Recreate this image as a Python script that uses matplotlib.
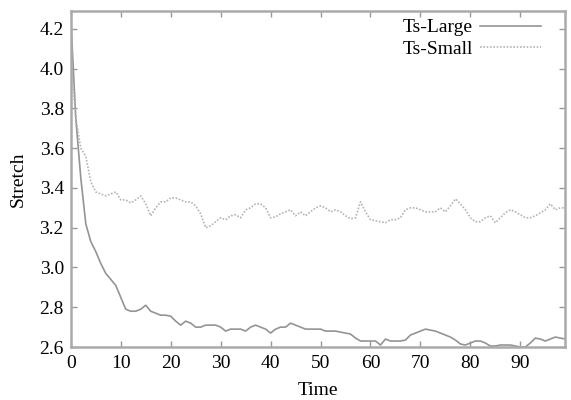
import matplotlib.pyplot as plt
import numpy as np

plt.rcParams['font.family'] = ['Liberation Serif', 'DejaVu Serif']

time = np.arange(100)

ts_large = [4.25, 3.75, 3.45, 3.22, 3.13, 3.08, 3.02, 2.97, 2.94, 2.91,
            2.85, 2.79, 2.78, 2.78, 2.79, 2.81, 2.78, 2.77, 2.76, 2.76,
            2.755, 2.73, 2.71, 2.73, 2.72, 2.70, 2.70, 2.71, 2.71, 2.71,
            2.70, 2.68, 2.69, 2.69, 2.69, 2.68, 2.70, 2.71, 2.70, 2.69,
            2.67, 2.69, 2.70, 2.70, 2.72, 2.71, 2.70, 2.69, 2.69, 2.69,
            2.69, 2.68, 2.68, 2.68, 2.675, 2.67, 2.665, 2.645, 2.63, 2.63,
            2.63, 2.63, 2.61, 2.64, 2.63, 2.63, 2.63, 2.635, 2.66, 2.67,
            2.68, 2.69, 2.685, 2.68, 2.67, 2.66, 2.65, 2.635, 2.615, 2.61,
            2.62, 2.63, 2.63, 2.62, 2.605, 2.605, 2.61, 2.61, 2.61, 2.605,
            2.60, 2.60, 2.62, 2.645, 2.64, 2.63, 2.64, 2.65, 2.645, 2.64]

ts_small = [4.05, 3.75, 3.60, 3.56, 3.43, 3.38, 3.37, 3.36, 3.37, 3.38,
            3.34, 3.34, 3.325, 3.34, 3.36, 3.32, 3.26, 3.30, 3.33, 3.33,
            3.35, 3.35, 3.34, 3.33, 3.33, 3.31, 3.27, 3.20, 3.21, 3.23,
            3.25, 3.24, 3.26, 3.265, 3.25, 3.29, 3.30, 3.32, 3.32, 3.30,
            3.25, 3.255, 3.27, 3.28, 3.29, 3.26, 3.28, 3.26, 3.28, 3.30,
            3.31, 3.30, 3.28, 3.29, 3.28, 3.26, 3.245, 3.25, 3.33, 3.28,
            3.24, 3.235, 3.23, 3.225, 3.24, 3.24, 3.25, 3.29, 3.30, 3.30,
            3.29, 3.28, 3.28, 3.28, 3.30, 3.28, 3.31, 3.345, 3.32, 3.29,
            3.25, 3.23, 3.23, 3.25, 3.26, 3.225, 3.25, 3.275, 3.29, 3.28,
            3.265, 3.25, 3.25, 3.26, 3.275, 3.29, 3.32, 3.29, 3.30, 3.30]

fig = plt.figure(figsize=(5.71, 4.0), dpi=100)
ax = fig.add_axes([0.124, 0.1325, 0.866, 0.84])

ax.plot(time, ts_large, color='#949494', lw=1.2, label='Ts-Large')
ax.plot(time, ts_small, color='#b4b4b4', lw=1.2, ls=(0, (1, 1)), label='Ts-Small')

ax.set_xlim(0, 99)
ax.set_ylim(2.6, 4.29)
ax.set_xticks(np.arange(0, 100, 10))
ax.set_yticks(np.arange(2.6, 4.21, 0.2))
ax.set_yticklabels(['%.1f' % v for v in np.arange(2.6, 4.21, 0.2)])

for s in ax.spines.values():
    s.set_color('#aaaaaa')
    s.set_linewidth(1.8)
ax.tick_params(direction='in', top=True, right=True, length=4, width=1,
               color='#999999', labelsize=14, pad=6)
ax.tick_params(axis='y', pad=5)

ax.set_xlabel('Time', fontsize=14, labelpad=7)
ax.set_ylabel('Stretch', fontsize=14, labelpad=9)

leg = ax.legend(loc='upper right', bbox_to_anchor=(0.966, 1.0), borderaxespad=0,
                frameon=False, fontsize=14, markerfirst=False,
                handlelength=3.1, handletextpad=0.4, labelspacing=0.18)

fig.savefig('out.png', dpi=100)
